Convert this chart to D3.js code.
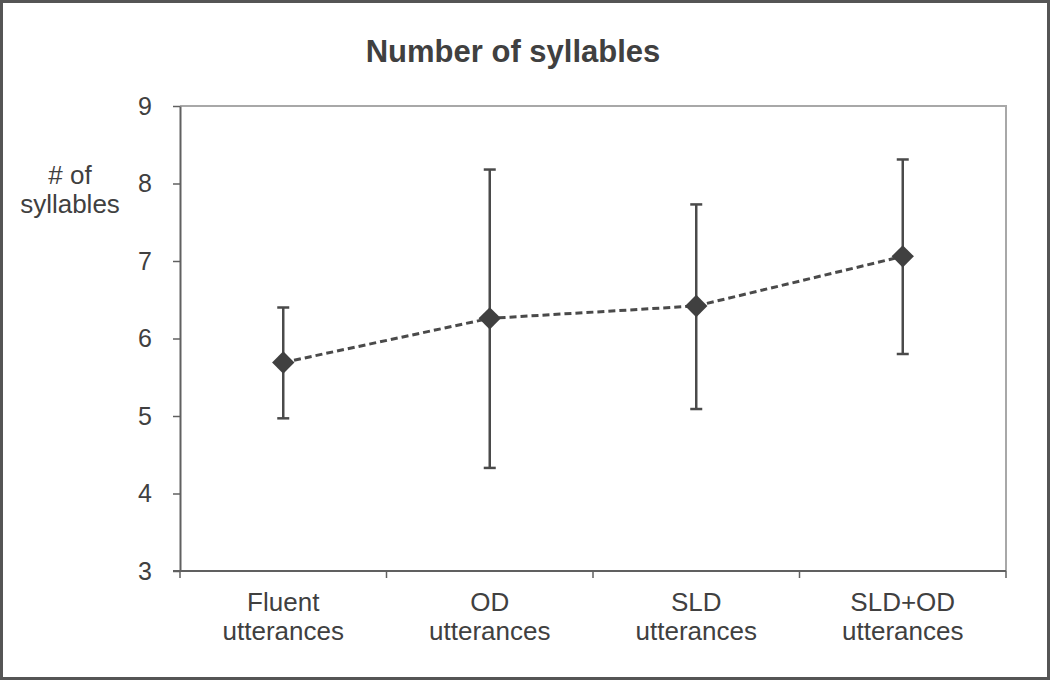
<!DOCTYPE html>
<html>
<head>
<meta charset="utf-8">
<script src="https://cdn.jsdelivr.net/npm/d3@7"></script>
<style>
  html, body { margin: 0; padding: 0; background: #fff; }
  svg { display: block; font-family: "Liberation Sans", Arial, sans-serif; }
</style>
</head>
<body>
<svg id="chart" width="1050" height="680"></svg>
<script>
// ---- Data ----
const categories = ["Fluent utterances", "OD utterances", "SLD utterances", "SLD+OD utterances"];
const labelLines = [["Fluent", "utterances"], ["OD", "utterances"], ["SLD", "utterances"], ["SLD+OD", "utterances"]];
const means = [5.69, 6.26, 6.42, 7.06];
const upper = [6.40, 8.18, 7.73, 8.31];
const lower = [4.97, 4.33, 5.09, 5.80];
const yTicks = [3, 4, 5, 6, 7, 8, 9];
const title = "Number of syllables";
const yLabel = ["# of", "syllables"];

// ---- Layout ----
const W = 1050, H = 680;
const plotL = 180, plotR = 1006, plotT = 106, plotB = 571;
const textColor = "#404040";
const markColor = "#4a4a4a";
const fontFam = "Liberation Sans, Arial, sans-serif";

const svg = d3.select("#chart");

// outer frame
svg.append("rect").attr("x", 1.5).attr("y", 1.5).attr("width", W - 3).attr("height", H - 3)
  .attr("fill", "#fff").attr("stroke", "#555").attr("stroke-width", 3);

const x = d3.scaleBand().domain(categories).range([plotL, plotR]).padding(0);
const y = d3.scaleLinear().domain([3, 9]).range([plotB, plotT]);

// plot frame top/right (light)
svg.append("path")
  .attr("d", `M${plotL},${plotT}H${plotR}V${plotB}`)
  .attr("fill", "none").attr("stroke", "#a8a8a8").attr("stroke-width", 2);

// left axis
const yAxis = d3.axisLeft(y).tickValues(yTicks).tickFormat(d3.format("d")).tickSizeInner(7).tickSizeOuter(0).tickPadding(21);
const gy = svg.append("g").attr("transform", `translate(${plotL},0)`).call(yAxis);
gy.attr("font-size", 25).attr("font-family", fontFam);
gy.select(".domain").attr("stroke", "#606060").attr("stroke-width", 2);
gy.selectAll(".tick line").attr("stroke", "#606060").attr("stroke-width", 1.5);
gy.selectAll(".tick text").attr("fill", textColor);

// bottom axis line
svg.append("line").attr("x1", plotL - 7).attr("x2", plotR).attr("y1", plotB).attr("y2", plotB)
  .attr("stroke", "#606060").attr("stroke-width", 2);
// bottom ticks at band boundaries
const bounds = categories.map(c => x(c)).concat([x(categories[categories.length - 1]) + x.bandwidth()]);
svg.selectAll(".xtick").data(bounds).join("line").attr("class", "xtick")
  .attr("x1", d => d).attr("x2", d => d).attr("y1", plotB).attr("y2", plotB + 7)
  .attr("stroke", "#606060").attr("stroke-width", 1.5);

// x labels
const xl = svg.selectAll(".xlab").data(categories).join("text").attr("class", "xlab")
  .attr("text-anchor", "middle").attr("fill", textColor).attr("font-size", 26);
xl.each(function(d, i) {
  const t = d3.select(this);
  labelLines[i].forEach((ln, j) => {
    t.append("tspan").attr("x", x(d) + x.bandwidth() / 2).attr("y", 611 + j * 29).text(ln);
  });
});

// title
svg.append("text").attr("x", 513).attr("y", 62).attr("text-anchor", "middle")
  .attr("font-size", 31).attr("font-weight", "bold").attr("fill", textColor).text(title);

// y label
const yl = svg.append("text").attr("text-anchor", "middle").attr("fill", textColor).attr("font-size", 26);
yLabel.forEach((ln, j) => yl.append("tspan").attr("x", 70).attr("y", 184 + j * 29).text(ln));

const cx = d => x(d) + x.bandwidth() / 2;

// error bars
const eb = svg.append("g");
categories.forEach((c, i) => {
  eb.append("line").attr("x1", cx(c)).attr("x2", cx(c)).attr("y1", y(lower[i])).attr("y2", y(upper[i]))
    .attr("stroke", markColor).attr("stroke-width", 2.5);
  [lower[i], upper[i]].forEach(v => {
    eb.append("line").attr("x1", cx(c) - 6).attr("x2", cx(c) + 6).attr("y1", y(v)).attr("y2", y(v))
      .attr("stroke", markColor).attr("stroke-width", 2.5);
  });
});

// dashed line
const line = d3.line().x((d, i) => cx(categories[i])).y(d => y(d));
svg.append("path").datum(means).attr("d", line).attr("fill", "none")
  .attr("stroke", markColor).attr("stroke-width", 3).attr("stroke-dasharray", "7,4");

// diamond markers
svg.selectAll(".pt").data(means).join("path").attr("class", "pt")
  .attr("d", d3.symbol(d3.symbolSquare, 250))
  .attr("transform", (d, i) => `translate(${cx(categories[i])},${y(d)}) rotate(45)`)
  .attr("fill", "#404040");
</script>
</body>
</html>
